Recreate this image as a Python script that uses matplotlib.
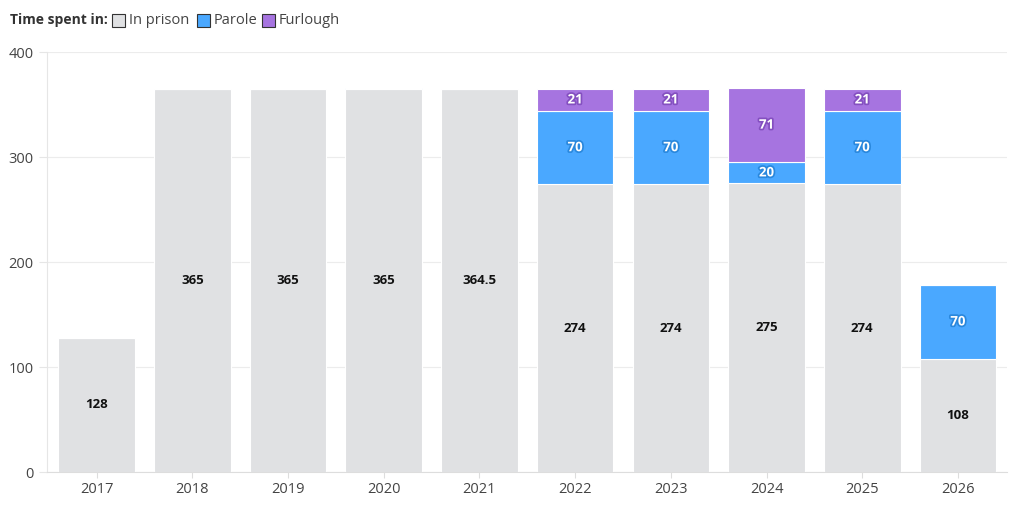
import matplotlib
matplotlib.use("Agg")
import matplotlib.pyplot as plt
import matplotlib.patheffects as pe
from matplotlib.patches import Rectangle
import numpy as np

plt.rcParams['font.family'] = ['Open Sans', 'DejaVu Sans']

years = ['2017', '2018', '2019', '2020', '2021', '2022', '2023', '2024', '2025', '2026']
in_prison = [128, 365, 365, 365, 364.5, 274, 274, 275, 274, 108]
parole = [0, 0, 0, 1, 0.5, 70, 70, 20, 70, 70]
furlough = [0, 0, 0, 0, 0, 21, 21, 71, 21, 0]

c_prison = '#e0e1e3'
c_parole = '#4aa8ff'
c_furlough = '#a674e0'

fig = plt.figure(figsize=(10.2, 5.07), dpi=100)
ax = fig.add_axes([0.046, 0.069, 0.941, 0.828])

x = np.arange(len(years))
w = 0.8
ax.bar(x, in_prison, w, color=c_prison, edgecolor='white', linewidth=0.8, zorder=2)
ax.bar(x, parole, w, bottom=in_prison, color=c_parole, edgecolor='white', linewidth=0.8, zorder=2)
bottom2 = np.array(in_prison) + np.array(parole)
ax.bar(x, furlough, w, bottom=bottom2, color=c_furlough, edgecolor='white', linewidth=0.8, zorder=2)

# labels
for i in range(len(years)):
    v = in_prison[i]
    ax.text(x[i], v / 2, '%g' % v, ha='center', va='center', fontsize=9.5, fontweight='bold',
            color='#111111', zorder=3)
    if parole[i] >= 5:
        ax.text(x[i], in_prison[i] + parole[i] / 2, '%g' % parole[i], ha='center', va='center',
                fontsize=9.5, fontweight='bold', color='white', zorder=3,
                path_effects=[pe.withStroke(linewidth=2.5, foreground='#2a88dd')])
    if furlough[i] >= 5:
        ax.text(x[i], bottom2[i] + furlough[i] / 2, '%g' % furlough[i], ha='center', va='center',
                fontsize=9.5, fontweight='bold', color='white', zorder=3,
                path_effects=[pe.withStroke(linewidth=2.5, foreground='#8450c0')])

ax.set_xlim(-0.52, len(years) - 0.49)
ax.set_ylim(0, 400)
ax.set_yticks([0, 100, 200, 300, 400])
ax.set_xticks(x)
ax.set_xticklabels(years)
ax.grid(axis='y', color='#ececec', linewidth=0.8, zorder=0)
for s in ['top', 'right']:
    ax.spines[s].set_visible(False)
ax.spines['left'].set_color('#e6e6e6')
ax.spines['bottom'].set_color('#dddddd')
ax.tick_params(axis='both', colors='#444444', labelsize=10.5, length=4)
ax.tick_params(axis='y', length=6, color='#e6e6e6')
ax.tick_params(axis='x', color='#dddddd')

# legend
fig.text(10 / 1020, 1 - 20 / 507, 'Time spent in:', fontsize=10, fontweight='bold',
         color='#333333', va='center', ha='left')
items = [('In prison', c_prison, 112), ('Parole', c_parole, 197), ('Furlough', c_furlough, 262)]
for name, col, px in items:
    fig.patches.append(Rectangle((px / 1020, 1 - 27 / 507), 13 / 1020, 13 / 507,
                                 transform=fig.transFigure, facecolor=col,
                                 edgecolor='#333333', linewidth=0.8))
    fig.text((px + 17) / 1020, 1 - 20 / 507, name, fontsize=10.5, color='#444444',
             va='center', ha='left')

fig.savefig('out.png', dpi=100)
